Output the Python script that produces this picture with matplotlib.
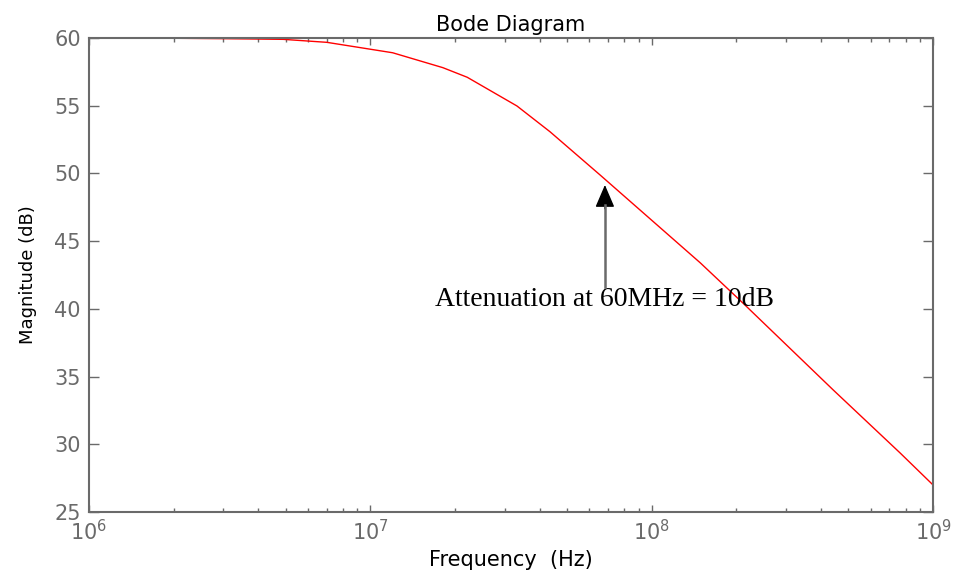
#!/usr/bin/env python3
"""Bode magnitude plot with attenuation annotation"""

import matplotlib
matplotlib.use("Agg")
import matplotlib.pyplot as plt

# magnitude response
freq_hz = [1e6, 2e6, 3e6, 3.73e6, 4.9e6, 7.0e6, 1.2e7, 1.81e7, 2.21e7,
           3.32e7, 4.35e7, 6.56e7, 1.49e8, 2.11e8, 4.42e8, 7.64e8, 1e9]
mag_db = [60.0, 59.98, 59.95, 59.93, 59.90, 59.68, 58.91, 57.81, 57.10,
          54.98, 53.08, 49.88, 43.39, 40.43, 34.01, 29.36, 27.0]

y_ticks = [25, 30, 35, 40, 45, 50, 55, 60]

note_text = "Attenuation at 60MHz = 10dB"
arrow_tip = (6.82e7, 49.15)
arrow_tail = (6.82e7, 41.6)
head_base = 47.7
text_pos = (6.8e7, 40.2)

GRAY = "#6a6a6a"


def main():
    fig = plt.figure(figsize=(9.54, 5.8), dpi=100)
    ax = fig.add_axes([0.0933, 0.1172, 0.8847, 0.8173])

    ax.semilogx(freq_hz, mag_db, color="red", linewidth=1.0)

    ax.set_xlim(1e6, 1e9)
    ax.set_ylim(25, 60)
    ax.set_yticks(y_ticks)

    for side in ax.spines.values():
        side.set_color(GRAY)
        side.set_linewidth(1.5)

    ax.tick_params(axis="both", which="both", direction="in",
                   top=True, right=True, colors=GRAY,
                   labelsize=15, labelcolor=GRAY)
    ax.tick_params(axis="x", which="major", length=5, width=1, pad=5)
    ax.tick_params(axis="x", which="minor", length=3, width=1)
    ax.tick_params(axis="y", which="major", length=7, width=1, pad=6)

    ax.set_title("Bode Diagram", fontsize=15, color="black", pad=5)
    ax.set_xlabel("Frequency  (Hz)", fontsize=15, color="black", labelpad=4)
    ax.set_ylabel("Magnitude (dB)", fontsize=13, color="black", labelpad=12)

    ax.annotate("", xy=arrow_tip, xytext=(arrow_tip[0], head_base - 0.3),
                arrowprops=dict(arrowstyle="-|>,head_length=1.4,head_width=0.6",
                                color="black", lw=1.0,
                                shrinkA=0, shrinkB=0), zorder=4)
    # grey shaft under the black head
    ax.plot([arrow_tail[0], arrow_tail[0]], [arrow_tail[1], head_base],
            color=GRAY, linewidth=1.8, zorder=5)

    ax.text(text_pos[0], text_pos[1], note_text, ha="center", va="baseline",
            fontsize=20, family="Liberation Serif", color="black")

    fig.savefig("out.png", dpi=100)
    plt.close(fig)


if __name__ == "__main__":
    main()
